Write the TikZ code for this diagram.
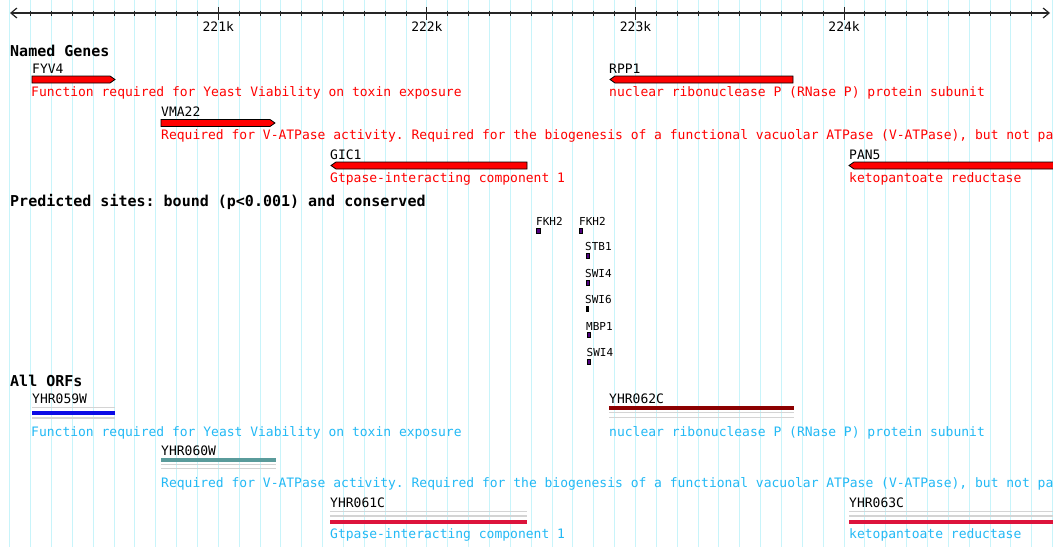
\documentclass[tikz,border=0pt]{standalone}
\usepackage{fontspec}
\setmonofont{DejaVu Sans Mono}
\usetikzlibrary{arrows.meta,positioning}

\definecolor{gridcyan}{RGB}{200,244,250}
\definecolor{genered}{RGB}{255,0,0}
\definecolor{orfblue}{RGB}{35,185,245}
\definecolor{sitepurple}{RGB}{80,0,130}
\definecolor{lanegray}{RGB}{212,212,212}
\definecolor{barblue}{RGB}{10,10,230}
\definecolor{barteal}{RGB}{90,155,155}
\definecolor{barmaroon}{RGB}{140,0,0}
\definecolor{barcrimson}{RGB}{220,20,60}

\begin{document}
\begin{tikzpicture}[x=1pt, y=-1pt, >={Straight Barb[length=6pt,width=10pt]}]
    \tikzset{
      lbl/.style={anchor=base west, inner sep=0pt, font=\fontsize{13}{13}\selectfont\ttfamily},
      gdesc/.style={lbl, text=genered},
      odesc/.style={lbl, text=orfblue},
      head/.style={anchor=base west, inner sep=0pt, font=\fontsize{15}{15}\selectfont\ttfamily\bfseries},
      sitelbl/.style={anchor=base west, inner sep=0pt, font=\fontsize{11}{11}\selectfont\ttfamily},
      sitebox/.style={draw=black, fill=sitepurple, line width=0.6pt},
      gene/.style={draw=black, fill=genered, line width=0.8pt},
      lane/.style={draw=lanegray, line width=1.5pt},
      bar/.style={line width=4pt},
    }
    \useasboundingbox (0,0) rectangle (1053,547);
    \fill[white] (0,0) rectangle (1053,547);
    \clip (0,0) rectangle (1053,547);

    % grid and ruler
    \foreach \k in {-10,...,40}
      \draw[gridcyan, line width=1pt] ({218.3+20.86*\k},0) -- ++(0,547);
    \draw[black!85, line width=1.2pt, <->] (10,13) -- (1050,13);
    \foreach \k in {-9,...,39}
      \draw[black!85, line width=1pt] ({218.3+20.86*\k},10.5) -- ++(0,5.5);
    \foreach \k in {0,10,20,30}
      \draw[black!85, line width=1pt] ({218.3+20.86*\k},7) -- ++(0,12.5);
    \node[lbl, anchor=base] (k221) at (218.3,31.5) {221k};
    \node[lbl, anchor=base] (k222) at (426.9,31.5) {222k};
    \node[lbl, anchor=base] (k223) at (635.5,31.5) {223k};
    \node[lbl, anchor=base] (k224) at (844.1,31.5) {224k};

    % named genes
    \node[head] (named) at (10,56.5) {Named Genes};
    \node[lbl] (fyv4) at (32,73) {FYV4};
    \draw[gene] (32,76) -- (110,76) -- (115,79.5) -- (110,83) -- (32,83) -- cycle;
    \node[gdesc] (fyv4d) at (31,96) {Function required for Yeast Viability on toxin exposure};
    \node[lbl] (rpp1) at (609,73) {RPP1};
    \draw[gene] (610,79.5) -- (615,76) -- (793,76) -- (793,83) -- (615,83) -- cycle;
    \node[gdesc] (rpp1d) at (609,96) {nuclear ribonuclease P (RNase P) protein subunit};
    \node[lbl] (vma22) at (161,116.5) {VMA22};
    \draw[gene] (161,119.5) -- (270,119.5) -- (275,123) -- (270,126.5) -- (161,126.5) -- cycle;
    \node[gdesc] (vma22d) at (161,139.5) {Required for V-ATPase activity. Required for the biogenesis of a functional vacuolar ATPase (V-ATPase), but not pa};
    \node[lbl] (gic1) at (330,159) {GIC1};
    \draw[gene] (331,165.5) -- (336,162) -- (527,162) -- (527,169) -- (336,169) -- cycle;
    \node[gdesc] (gic1d) at (330,182) {Gtpase-interacting component 1};
    \node[lbl] (pan5) at (849,159) {PAN5};
    \draw[gene] (849,165.5) -- (854,162) -- (1060,162) -- (1060,169) -- (854,169) -- cycle;
    \node[gdesc] (pan5d) at (849,182) {ketopantoate reductase};

    % predicted sites
    \node[head] (sites) at (10,206) {Predicted sites: bound (p<0.001) and conserved};
    \node[sitelbl] (fkh2a) at (536,225) {FKH2};
    \draw[sitebox] (536.5,228) rectangle (540,233);
    \node[sitelbl] (fkh2b) at (579,225) {FKH2};
    \draw[sitebox] (579.5,228) rectangle (582.5,233);
    \node[sitelbl] (stb1) at (585,250.5) {STB1};
    \draw[sitebox] (586,253) rectangle (589,258);
    \node[sitelbl] (swi4a) at (585,277) {SWI4};
    \draw[sitebox] (586,280) rectangle (589,285);
    \node[sitelbl] (swi6) at (585,303) {SWI6};
    \draw[sitebox, fill=black] (586.3,306) rectangle (588.3,311);
    \node[sitelbl] (mbp1) at (586,330) {MBP1};
    \draw[sitebox] (587,332.5) rectangle (590,337.5);
    \node[sitelbl] (swi4b) at (586.5,356) {SWI4};
    \draw[sitebox] (587.5,359) rectangle (590.5,364);

    % all ORFs
    \node[head] (orfs) at (10,386) {All ORFs};
    \node[lbl] (y059) at (32,403) {YHR059W};
    \draw[lane] (32,407.5) -- (115,407.5);
    \draw[bar, barblue] (32,412.8) -- (115,412.8);
    \draw[lane] (32,418) -- (115,418);
    \node[odesc] (y059d) at (31,436) {Function required for Yeast Viability on toxin exposure};
    \node[lbl] (y062) at (609,403) {YHR062C};
    \draw[bar, barmaroon] (609,407.7) -- (794,407.7);
    \draw[lane] (609,412.5) -- (794,412.5);
    \draw[lane] (609,417.7) -- (794,417.7);
    \node[odesc] (y062d) at (609,436) {nuclear ribonuclease P (RNase P) protein subunit};
    \node[lbl] (y060) at (161,455) {YHR060W};
    \draw[bar, barteal] (161,460) -- (276,460);
    \draw[lane] (161,464.3) -- (276,464.3);
    \draw[lane] (161,468.3) -- (276,468.3);
    \node[odesc] (y060d) at (161,487.5) {Required for V-ATPase activity. Required for the biogenesis of a functional vacuolar ATPase (V-ATPase), but not pa};
    \node[lbl] (y061) at (330,507) {YHR061C};
    \draw[lane] (330,511.7) -- (527,511.7);
    \draw[lane] (330,515.8) -- (527,515.8);
    \draw[bar, barcrimson] (330,522) -- (527,522);
    \node[odesc] (y061d) at (330,538) {Gtpase-interacting component 1};
    \node[lbl] (y063) at (849,507) {YHR063C};
    \draw[lane] (849,511.7) -- (1060,511.7);
    \draw[lane] (849,515.8) -- (1060,515.8);
    \draw[bar, barcrimson] (849,522) -- (1060,522);
    \node[odesc] (y063d) at (849,538) {ketopantoate reductase};
\end{tikzpicture}
\end{document}
